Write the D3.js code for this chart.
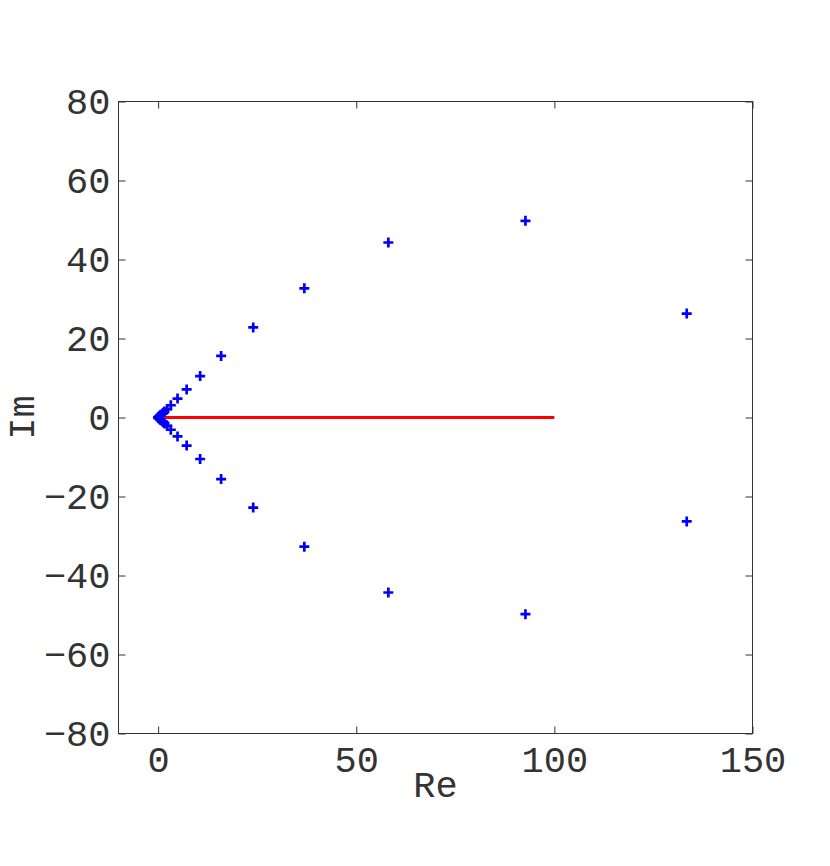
<!DOCTYPE html>
<html>
<head>
<meta charset="utf-8">
<script src="https://cdnjs.cloudflare.com/ajax/libs/d3/7.8.5/d3.min.js"></script>
<style>
  body { margin: 0; background: #fff; }
  svg { display: block; }
  text { font-family: "Liberation Mono", "Courier New", monospace; fill: #333; }
</style>
</head>
<body>
<script>
// eigenvalue-ish points (upper half then lower half)
var re = [133.4, 92.7, 58.1, 36.9, 24.0, 15.9, 10.6, 7.2, 4.9, 3.2, 2.3, 1.6, 1.1, 0.7, 0.45, 0.25, 0.1, 0.02,
          133.4, 92.7, 58.1, 36.9, 24.0, 15.9, 10.6, 7.2, 4.9, 3.2, 2.3, 1.6, 1.1, 0.7, 0.45, 0.25, 0.1, 0.02]
var im = [26.3, 49.8, 44.3, 32.7, 22.8, 15.6, 10.5, 7.1, 4.8, 3.1, 2.1, 1.5, 1.0, 0.7, 0.45, 0.25, 0.1, 0.02,
          -26.3, -49.8, -44.3, -32.7, -22.8, -15.6, -10.5, -7.1, -4.8, -3.1, -2.1, -1.5, -1.0, -0.7, -0.45, -0.25, -0.1, -0.02]
var lineRe = [1, 100]
var lineIm = [0, 0]

var xTicks = [0, 50, 100, 150]
var yTicks = [-80, -60, -40, -20, 0, 20, 40, 60, 80]

var width = 830
var height = 866
var mLeft = 118.5, mRight = 752.5, mTop = 101.5, mBottom = 733.5

var svg = d3.select("body").append("svg")
    .attr("width", width)
    .attr("height", height)

var x = d3.scaleLinear().domain([-10, 150]).range([mLeft, mRight])
var y = d3.scaleLinear().domain([-80, 80]).range([mBottom, mTop])

var tickLen = 7
var axisColor = "#333"
var fontSize = "37px"

// box
svg.append("rect")
  .attr("x", mLeft).attr("y", mTop)
  .attr("width", mRight - mLeft).attr("height", mBottom - mTop)
  .attr("fill", "none").attr("stroke", axisColor).attr("stroke-width", 1)

// ticks inward, on all four sides
function styleAxis(g){
  g.select(".domain").remove()
  g.selectAll(".tick line").attr("stroke", axisColor)
  g.selectAll(".tick text").style("font-size", fontSize).attr("fill", "#333")
}

svg.append("g")
  .attr("transform", "translate(0," + mBottom + ")")
  .call(d3.axisBottom(x).tickValues(xTicks).tickSize(-tickLen).tickPadding(12))
  .call(styleAxis)
svg.append("g")
  .attr("transform", "translate(0," + mTop + ")")
  .call(d3.axisTop(x).tickValues(xTicks).tickSize(-tickLen).tickFormat(""))
  .call(styleAxis)
svg.append("g")
  .attr("transform", "translate(" + mLeft + ",0)")
  .call(d3.axisLeft(y).tickValues(yTicks).tickSize(-tickLen).tickPadding(8)
        .tickFormat(function(d){ return d < 0 ? "\u2212" + Math.abs(d) : d }))
  .call(styleAxis)
svg.append("g")
  .attr("transform", "translate(" + mRight + ",0)")
  .call(d3.axisRight(y).tickValues(yTicks).tickSize(-tickLen).tickFormat(""))
  .call(styleAxis)

// red line along the real axis
var lineData = lineRe.map(function(d, i){ return [d, lineIm[i]] })
svg.append("path")
  .datum(lineData)
  .attr("d", d3.line().x(function(d){ return x(d[0]) }).y(function(d){ return y(d[1]) }))
  .attr("stroke", "#ff0000").attr("stroke-width", 3).attr("fill", "none")

// plus markers
var pts = re.map(function(d, i){ return [d, im[i]] })
var s = 5
svg.append("g").selectAll("path")
  .data(pts)
  .enter().append("path")
  .attr("d", function(d){
    var px = x(d[0]), py = y(d[1])
    return "M" + (px - s) + "," + py + "H" + (px + s) + "M" + px + "," + (py - s) + "V" + (py + s)
  })
  .attr("stroke", "#0000ff").attr("stroke-width", 2.7).attr("fill", "none")

// axis labels
svg.append("text")
  .attr("x", (mLeft + mRight) / 2).attr("y", 797)
  .attr("text-anchor", "middle")
  .style("font-size", fontSize)
  .text("Re")
svg.append("text")
  .attr("transform", "translate(34," + (mTop + mBottom) / 2 + ") rotate(-90)")
  .attr("text-anchor", "middle")
  .style("font-size", fontSize)
  .text("Im")
</script>
</body>
</html>
